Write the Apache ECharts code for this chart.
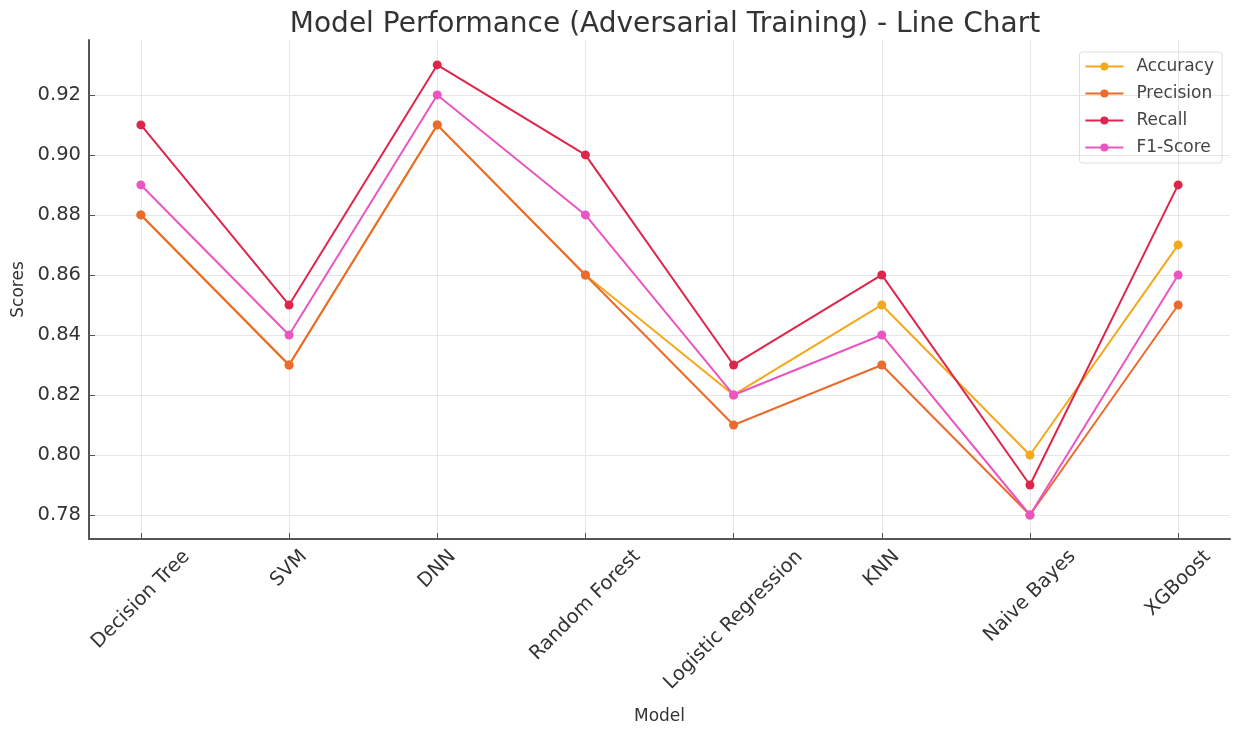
<!DOCTYPE html>
<html>
<head>
<meta charset="utf-8">
<script src="https://cdn.jsdelivr.net/npm/echarts@6/dist/echarts.min.js"></script>
<style>
  html, body { margin: 0; padding: 0; background: #fff; }
  #chart { width: 1233px; height: 731px; }
</style>
</head>
<body>
<div id="chart"></div>
<script>
const models = ['Decision Tree', 'SVM', 'DNN', 'Random Forest', 'Logistic Regression', 'KNN', 'Naive Bayes', 'XGBoost']
const accuracy = [0.88, 0.83, 0.91, 0.86, 0.82, 0.85, 0.80, 0.87]
const precision = [0.88, 0.83, 0.91, 0.86, 0.81, 0.83, 0.78, 0.85]
const recall = [0.91, 0.85, 0.93, 0.90, 0.83, 0.86, 0.79, 0.89]
const f1Score = [0.89, 0.84, 0.92, 0.88, 0.82, 0.84, 0.78, 0.86]
const yTicks = [0.78, 0.80, 0.82, 0.84, 0.86, 0.88, 0.90, 0.92]

const font = 'DejaVu Sans'
const labelSize = 19.5
const chart = echarts.init(document.getElementById('chart'))

// labels are centred on their tick like matplotlib's rotated labels,
// so each one gets its own padding to slide it down along the axis
const ctx = document.createElement('canvas').getContext('2d')
ctx.font = labelSize + 'px "' + font + '"'
const xRich = {}
models.forEach((m, i) => {
  const p = Math.round((ctx.measureText(m).width + 16) / 2)
  xRich['l' + i] = { fontFamily: font, fontSize: labelSize, color: '#333', padding: [p, p, 0, 0] }
})

function line(name, values, color) {
  return {
    name,
    type: 'line',
    data: values.map((v, i) => [i, v]),
    symbol: 'circle',
    symbolSize: 9,
    lineStyle: { color, width: 2 },
    itemStyle: { color },
    animation: false
  }
}

chart.setOption({
  backgroundColor: '#fff',
  title: {
    text: 'Model Performance (Adversarial Training) - Line Chart',
    left: 660,
    textAlign: 'center',
    top: 6,
    textStyle: { fontFamily: font, fontSize: 28, fontWeight: 'normal', color: '#333' }
  },
  legend: {
    right: 11,
    top: 52,
    orient: 'vertical',
    itemWidth: 38,
    itemHeight: 10,
    itemGap: 10,
    padding: [6, 8, 7, 5],
    borderColor: '#ddd',
    borderWidth: 1,
    borderRadius: 3,
    textStyle: { fontFamily: font, fontSize: 17, color: '#444', padding: [0, 0, 0, 8] }
  },
  grid: { left: 89, right: 3, top: 40, bottom: 192, outerBoundsMode: 'none' },
  xAxis: {
    type: 'value',
    min: -0.35,
    max: 7.35,
    name: 'Model',
    nameLocation: 'middle',
    nameGap: 169,
    nameTextStyle: { fontFamily: font, fontSize: 17, color: '#333' },
    axisLine: { show: true, onZero: false, lineStyle: { color: '#555', width: 2 } },
    axisTick: { show: true, inside: true, customValues: models.map((m, i) => i), length: 6, lineStyle: { color: '#555' } },
    axisLabel: {
      customValues: models.map((m, i) => i),
      formatter: v => '{l' + Math.round(v) + '|' + models[Math.round(v)] + '}',
      rich: xRich,
      rotate: 45,
      align: 'center',
      verticalAlign: 'middle',
      margin: 9,
      fontFamily: font,
      fontSize: labelSize,
      color: '#333'
    },
    splitLine: { show: true, lineStyle: { color: '#e6e6e6' } }
  },
  yAxis: {
    type: 'value',
    min: 0.772,
    max: 0.9383,
    name: 'Scores',
    nameLocation: 'middle',
    nameGap: 62,
    nameTextStyle: { fontFamily: font, fontSize: 17, color: '#333' },
    axisLine: { show: true, onZero: false, lineStyle: { color: '#555', width: 2 } },
    axisTick: { show: true, inside: true, customValues: yTicks, length: 6, lineStyle: { color: '#555' } },
    axisLabel: {
      customValues: yTicks,
      formatter: v => v.toFixed(2),
      margin: 8,
      fontFamily: font,
      fontSize: labelSize,
      color: '#333'
    },
    splitLine: { show: true, lineStyle: { color: '#e6e6e6' } }
  },
  series: [
    line('Accuracy', accuracy, '#f4a81a'),
    line('Precision', precision, '#ec6a2c'),
    line('Recall', recall, '#de264b'),
    line('F1-Score', f1Score, '#ea55c2')
  ]
})
</script>
</body>
</html>
